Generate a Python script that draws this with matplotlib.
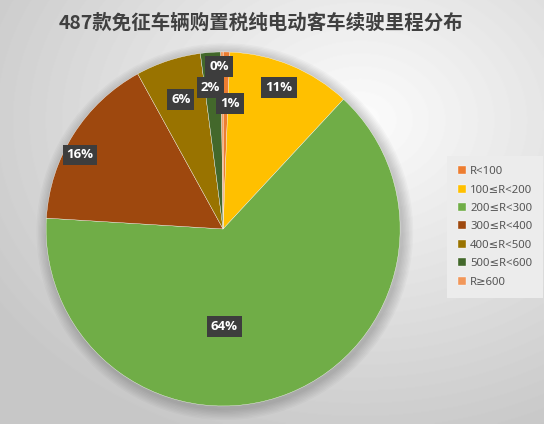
import numpy as np
import matplotlib.pyplot as plt
from matplotlib.patches import Circle

plt.rcParams['font.family'] = ['Noto Sans CJK SC', 'DejaVu Sans']

# data
labels = ['R<100', '100≤R<200', '200≤R<300', '300≤R<400', '400≤R<500', '500≤R<600', 'R≥600']
counts = [3, 55, 312, 78, 29, 9, 1]
colors = ['#ED7D31', '#FFC000', '#70AD47', '#9E480E', '#997300', '#43682B', '#F1975A']
title = '487款免征车辆购置税纯电动客车续驶里程分布'

# label placement tweaks (radial fraction, angle shift in degrees)
label_r = [0.71, 0.86, 0.55, 0.91, 0.77, 0.80, 0.92]
label_da = [2, -1, 21, -5, 0, -1, -1]

fig = plt.figure(figsize=(5.44, 4.24), dpi=100)

# radial gray background
bg = fig.add_axes([0, 0, 1, 1])
yy, xx = np.mgrid[0:424, 0:544]
d = np.sqrt(((xx - 360) / 544.0) ** 2 + ((yy - 120) / 424.0) ** 2)
shade = np.clip(0.99 - 0.26 * d, 0.78, 1.0)
bg.imshow(shade, cmap='gray', vmin=0, vmax=1, aspect='auto')
bg.axis('off')

ax = fig.add_axes([0.0846, 0.0425, 0.651, 0.835])
# soft shadow behind the pie
for k in range(8):
    ax.add_patch(Circle((0.01, -0.015), 1.0 + 0.008 * (8 - k), color='black',
                        alpha=0.025, lw=0, clip_on=False))
wedges, _ = ax.pie(counts, colors=colors, startangle=90, counterclock=False,
                   wedgeprops=dict(edgecolor='white', linewidth=0.25))
ax.set_xlim(-1, 1)
ax.set_ylim(-1, 1)
ax.set_aspect('equal')
ax.axis('off')

total = sum(counts)
for w, c, r, da in zip(wedges, counts, label_r, label_da):
    mid = np.deg2rad((w.theta1 + w.theta2) / 2 - da)
    x, y = r * np.cos(mid), r * np.sin(mid)
    ax.text(x, y, '%d%%' % round(c * 100.0 / total), ha='center', va='center',
            color='white', fontsize=9.5, fontweight='bold', family='Open Sans',
            bbox=dict(boxstyle='square,pad=0.3', facecolor='#3d3d3d', edgecolor='none'))

fig.text(0.48, 0.945, title, ha='center', va='center', fontsize=14,
         fontweight='bold', color='#404040')

leg = fig.legend(wedges, labels, loc='center', bbox_to_anchor=(0.91, 0.465),
                 frameon=True, prop={'family': ['Noto Sans', 'DejaVu Sans'], 'size': 8.2},
                 handlelength=0.7, handleheight=0.7,
                 handletextpad=0.4, labelspacing=0.65, borderpad=0.6,
                 labelcolor='#555555')
leg.get_frame().set_facecolor('#ececec')
leg.get_frame().set_edgecolor('none')
leg.get_frame().set_alpha(1)
leg.get_frame().set_boxstyle('square')

fig.savefig('out.png', dpi=100)
